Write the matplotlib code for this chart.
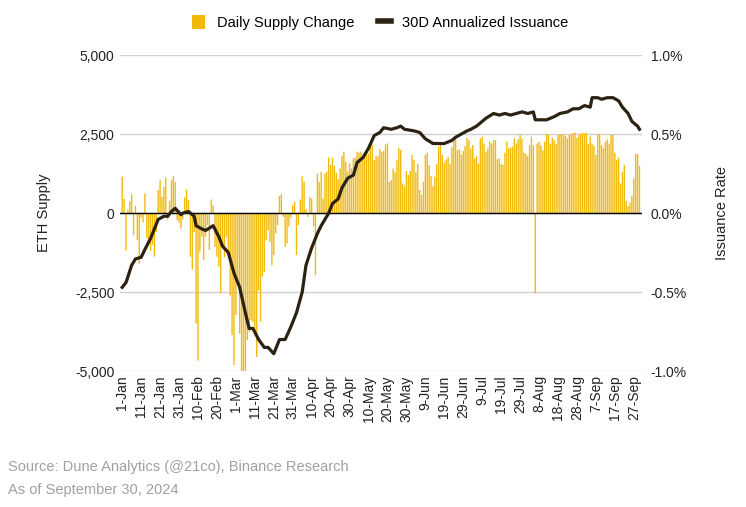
import matplotlib

matplotlib.use("Agg")
import matplotlib.pyplot as plt
from matplotlib.lines import Line2D
from matplotlib.patches import Patch

plt.rcParams["font.family"] = ["Liberation Sans", "DejaVu Sans"]

# daily ETH supply change, 1-Jan .. 30-Sep 2024
change_jan_feb = [1150, 450, -1190, 100, 380, 590, -700, 230, -850, -1600,
                  -140, -300, 620, -800, -900, -1200, -1000, -1380, -600, 730,
                  1040, 520, 830, 1130, -200, 390, 1040, 1170, 990, -220,
                  -300, -490, -200, 500, 750, 410, -1380, -1780, -600, -3490,
                  -4670, -1220, -750, -1490, -750]
change_feb_apr = [-380, -1170, 430, 250, -1070, -1380, -1700, -2540, -1010, -1400,
                  -750, -1200, -2600, -3860, -4810, -3230, -2120, -3810, -4990, -4990,
                  -4990, -4020, -3760, -3390, -3450, -3870, -4550, -2440, -3440, -2010,
                  -1860, -855, -540, -910, -1650, -1330, -640, -380, 540, 600,
                  -120, -1070, -960, -430, -150, 250, 360]
change_apr_may = [-1330, -380, 430, 1170, 990, 130, -120, 500, 460, -430,
                  -1960, 1250, 990, 1310, 460, 1250, 1310, 1760, 1520, 1750,
                  1490, 1280, 1070, 1410, 1800, 1940, 1620, 1310, 1570, 1410,
                  1730, 1760, 1940, 1910, 1940, 1680, 1890, 2020, 1890, 2100,
                  2150, 1680, 1800, 1800, 2020, 1940]
change_may_jul = [1960, 2180, 2200, 990, 1040, 1410, 1290, 1680, 2070, 2000,
                  940, 850, 1330, 1200, 1330, 1840, 1680, 1290, 1550, 730,
                  570, 990, 1840, 1910, 1520, 1170, 850, 1150, 1550, 2100,
                  2180, 1840, 1590, 1700, 1780, 1550, 2080, 2310, 2340, 1990,
                  2010, 1840, 1960, 2120, 2380, 2310, 2040, 2150, 1730, 1800,
                  1570, 2360, 2420, 2200, 1940, 2050, 2260, 2200, 2310, 2310,
                  1700, 1730, 1550, 1520, 1910, 2260, 2050, 2080]
change_jul_aug = [2100, 2360, 2200, 2330, 2470, 2360, 1910, 1870, 1800, 2150,
                  2420, 2130, -2540, 2200, 2260, 2150, 1990, 2260, 2500, 2470,
                  2200, 2390, 2310, 2180, 2470, 2470, 2500]
change_aug_sep = [2470, 2440, 2360, 2470, 2500, 2520, 2540, 2390, 2470, 2500,
                  2540, 2520, 2540, 2200, 2420, 2200, 2120, 1840, 2470, 2500,
                  2150, 2050, 2260, 2330, 2200, 2470, 2470, 1910, 1680, 1760,
                  940, 1310, 1520, 390, 220, 330, 540, 1100, 1870, 1870, 1490]
daily_change = (change_jan_feb + change_feb_apr + change_apr_may
                + change_may_jul + change_jul_aug + change_aug_sep)

# 30D annualized issuance (%), sampled at day-of-year index
issuance_day = [0, 2, 5, 7, 10, 12, 15, 16, 19, 22, 24, 26, 28, 31, 32, 35, 38, 39,
                42, 44, 48, 51, 53, 56, 59, 62, 65, 67, 69, 72, 75, 77, 80, 83, 86,
                89, 92, 95, 97, 100, 103, 105, 109, 111, 114, 116, 119, 122, 124,
                127, 130, 133, 136, 138, 142, 145, 147, 149, 154, 157, 160, 164,
                168, 170, 174, 176, 179, 182, 184, 187, 190, 192, 196, 199, 202,
                205, 211, 214, 217, 218, 220, 224, 228, 231, 235, 238, 241, 244,
                247, 248, 251, 253, 256, 259, 262, 264, 267, 269, 272, 273]
issuance_pct = [-0.47, -0.44, -0.33, -0.29, -0.28, -0.23, -0.16, -0.13, -0.04, -0.02,
                -0.02, 0.01, 0.03, -0.01, 0.0, 0.01, -0.02, -0.08, -0.10, -0.11,
                -0.08, -0.15, -0.21, -0.25, -0.38, -0.47, -0.63, -0.73, -0.73, -0.80,
                -0.85, -0.85, -0.89, -0.80, -0.80, -0.72, -0.63, -0.50, -0.33, -0.22,
                -0.13, -0.08, 0.0, 0.06, 0.09, 0.16, 0.22, 0.24, 0.32, 0.35,
                0.41, 0.49, 0.51, 0.54, 0.53, 0.54, 0.55, 0.53, 0.52, 0.51,
                0.47, 0.44, 0.44, 0.44, 0.46, 0.48, 0.50, 0.52, 0.53, 0.55,
                0.58, 0.60, 0.63, 0.62, 0.63, 0.62, 0.64, 0.63, 0.64, 0.59,
                0.59, 0.59, 0.61, 0.63, 0.64, 0.66, 0.66, 0.68, 0.67, 0.73,
                0.73, 0.72, 0.73, 0.73, 0.71, 0.67, 0.63, 0.58, 0.55, 0.53]

tick_labels = ["1-Jan", "11-Jan", "21-Jan", "31-Jan", "10-Feb", "20-Feb", "1-Mar",
               "11-Mar", "21-Mar", "31-Mar", "10-Apr", "20-Apr", "30-Apr", "10-May",
               "20-May", "30-May", "9-Jun", "19-Jun", "29-Jun", "9-Jul", "19-Jul",
               "29-Jul", "8-Aug", "18-Aug", "28-Aug", "7-Sep", "17-Sep", "27-Sep"]
left_ticks = [-5000, -2500, 0, 2500, 5000]
left_labels = ["-5,000", "-2,500", "0", "2,500", "5,000"]
right_ticks = [-1.0, -0.5, 0.0, 0.5, 1.0]
right_labels = ["-1.0%", "-0.5%", "0.0%", "0.5%", "1.0%"]

GOLD = "#F0B90B"
DARK = "#2B2213"
GREY = "#A0A0A0"

fig = plt.figure(figsize=(7.46, 5.07), dpi=100)
ax = fig.add_axes([0.161, 0.268, 0.700, 0.6235])

days = list(range(len(daily_change)))
ax.bar(days, daily_change, width=0.72, color=GOLD, linewidth=0, snap=False,
       zorder=2)
ax.axhline(0, color="black", lw=1.0, zorder=3)

ax.set_xlim(-1.1, 274.5)
ax.set_ylim(-5000, 5000)
ax.set_yticks(left_ticks)
ax.set_yticklabels(left_labels)
ax.set_xticks(range(0, 10 * len(tick_labels), 10))
ax.set_xticklabels(tick_labels, rotation=90)
ax.grid(axis="y", color="#D0D0D0", lw=1.0, zorder=0)
ax.set_axisbelow(True)
ax.tick_params(length=0, labelsize=10, colors="#222222", pad=4)
ax.tick_params(axis="x", pad=3)
for s in ax.spines.values():
    s.set_visible(False)
ax.set_ylabel("ETH Supply", fontsize=10.5, color="#222222", labelpad=17)

ax2 = ax.twinx()
ax2.plot(issuance_day, issuance_pct, color=DARK, lw=2.3, solid_joinstyle="round")
ax2.set_ylim(-1.0, 1.0)
ax2.set_yticks(right_ticks)
ax2.set_yticklabels(right_labels)
ax2.tick_params(length=0, labelsize=10, colors="#222222", pad=6)
for s in ax2.spines.values():
    s.set_visible(False)
ax2.set_ylabel("Issuance Rate", fontsize=10.5, color="#222222", labelpad=20)

handles = [Patch(facecolor=GOLD, edgecolor="none"),
           Line2D([0], [0], color=DARK, lw=4)]
fig.legend(handles, ["Daily Supply Change", "30D Annualized Issuance"],
           loc="center", bbox_to_anchor=(0.51, 0.955), ncol=2, frameon=False,
           fontsize=10.5, handlelength=0.9, handleheight=1.1, columnspacing=1.6,
           handletextpad=0.8)

fig.text(0.011, 0.078, "Source: Dune Analytics (@21co), Binance Research",
         fontsize=10.5, color=GREY, va="center")
fig.text(0.011, 0.033, "As of September 30, 2024", fontsize=10.5, color=GREY,
         va="center")

fig.savefig("out.png", dpi=100)
